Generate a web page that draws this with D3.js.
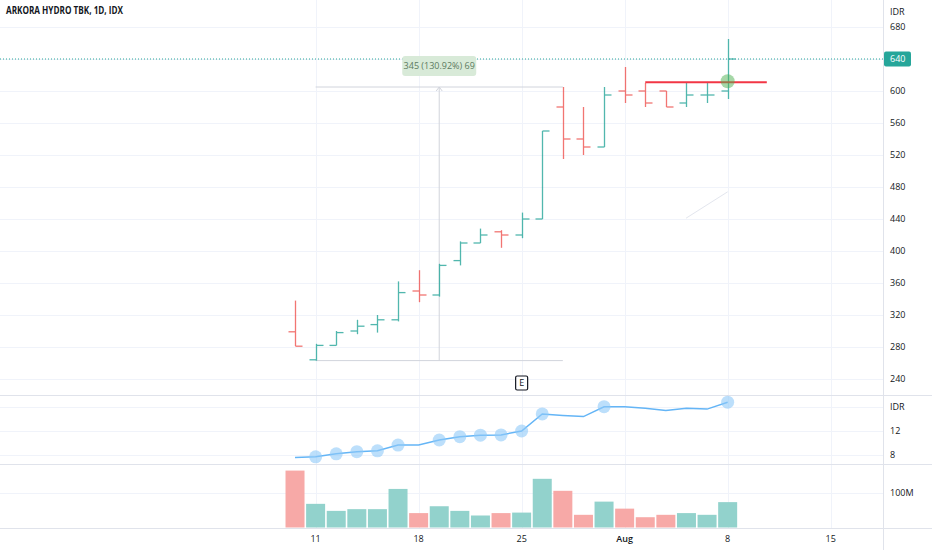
<!DOCTYPE html>
<html lang="en">
<head>
<meta charset="UTF-8">
<title>ARKORA HYDRO TBK, 1D, IDX</title>
<script src="https://d3js.org/d3.v7.min.js"></script>
<style>
  body { margin: 0; background: #fff; }
  svg { display: block; font-family: "Open Sans", "Noto Sans", sans-serif; }
  .lbl { font-size: 9px; fill: #131722; }
</style>
</head>
<body>
<div id="chart"></div>
<script>
// daily bars, ARKO, 8 Jul - 8 Aug 2022 (trading days only)
const dates = ["07-08","07-11","07-12","07-13","07-14","07-15","07-18","07-19","07-20","07-21","07-22",
               "07-25","07-26","07-27","07-28","07-29","08-01","08-02","08-03","08-04","08-05","08-08"];
const opens  = [299, 264, 282, 300, 308, 314, 350, 345, 388, 410, 424, 420, 440, 580, 540, 530, 600, 600, 600, 585, 595, 600];
const highs  = [338, 284, 300, 314, 320, 362, 376, 384, 412, 428, 426, 448, 550, 605, 580, 605, 630, 610, 600, 610, 610, 665];
const lows   = [281, 263, 282, 296, 298, 312, 336, 343, 382, 410, 404, 416, 440, 515, 520, 530, 585, 580, 580, 580, 585, 590];
const closes = [281, 282, 298, 306, 314, 348, 345, 382, 410, 420, 420, 440, 550, 540, 530, 595, 595, 585, 580, 595, 595, 640];
// volume in millions
const volumes = [166, 69, 48.5, 53.5, 53.5, 112.5, 42, 62, 48.5, 35, 42, 43.5, 142, 107, 37, 75.5, 55, 30, 37, 42, 37, 74];
// middle pane (IDR)
const indicator = [7.6, 7.7, 8.2, 8.55, 8.7, 9.65, 9.65, 10.5, 11.05, 11.3, 11.35, 12.0, 14.85, 14.6, 14.4, 16.05, 16.05, 15.8, 15.4, 15.8, 15.65, 16.8];
const markers   = [0, 1, 1, 1, 1, 1, 0, 1, 1, 1, 1, 1, 1, 0, 0, 1, 0, 0, 0, 0, 0, 1];

const priceTicks = [240, 280, 320, 360, 400, 440, 480, 520, 560, 600, 640, 680];
const indTicks = [8, 12];
const volTicks = [100];
const xTickIdx = [1, 6, 11, 16, 21, 26];
const xTickLabels = ["11", "18", "25", "Aug", "8", "15"];

const lastPrice = 640;
const measureLow = 263, measureHigh = 605, measureFrom = 1, measureTo = 13, measureText = "345 (130.92%) 69";
const hLineValue = 611, hLineFrom = 17, hLineTo = 22.9;
const earningsIdx = 11;

const W = 932, H = 550, plotR = 883;
const up = "#26a69a", down = "#ef5350";

const svg = d3.select("#chart").append("svg").attr("width", W).attr("height", H);

const x  = d3.scaleLinear().domain([-14.32, 28.54]).range([0, plotR]);
const yP = d3.scaleLinear().domain([220, 713.75]).range([395, 0]);
const yI = d3.scaleLinear().domain([6.5, 18]).range([464, 395]);
const yV = d3.scaleLinear().domain([0, 185.2]).range([527.5, 464]);
const step = x(1) - x(0);

// grid
const grid = svg.append("g").attr("stroke", "#f0f3fa").attr("stroke-width", 1);
grid.selectAll(".gp").data(priceTicks).enter().append("line")
  .attr("x1", 0).attr("x2", plotR).attr("y1", d => Math.round(yP(d)) + 0.5).attr("y2", d => Math.round(yP(d)) + 0.5);
grid.selectAll(".gi").data([8, 12, 16]).enter().append("line")
  .attr("x1", 0).attr("x2", plotR).attr("y1", d => Math.round(yI(d)) + 0.5).attr("y2", d => Math.round(yI(d)) + 0.5);
grid.selectAll(".gv").data(volTicks).enter().append("line")
  .attr("x1", 0).attr("x2", plotR).attr("y1", d => Math.round(yV(d)) + 0.5).attr("y2", d => Math.round(yV(d)) + 0.5);
grid.selectAll(".gx").data(xTickIdx).enter().append("line")
  .attr("x1", d => Math.round(x(d)) + 0.5).attr("x2", d => Math.round(x(d)) + 0.5).attr("y1", 0).attr("y2", 528);

// pane separators and right axis border
const sep = svg.append("g").attr("stroke", "#e0e3eb").attr("stroke-width", 1);
[395, 464, 528].forEach(y => sep.append("line").attr("x1", 0).attr("x2", W).attr("y1", y + 0.5).attr("y2", y + 0.5));
sep.append("line").attr("x1", plotR + 0.5).attr("x2", plotR + 0.5).attr("y1", 0).attr("y2", H);

// last price dotted line
svg.append("line").attr("x1", 0).attr("x2", plotR).attr("y1", yP(lastPrice)).attr("y2", yP(lastPrice))
  .attr("stroke", up).attr("stroke-width", 1).attr("stroke-dasharray", "1,2");

// measurement tool
const mg = svg.append("g").attr("stroke", "#d1d4dc").attr("stroke-width", 1).attr("fill", "none");
const mMid = (measureFrom + measureTo) / 2;
mg.append("line").attr("x1", x(measureFrom)).attr("x2", x(measureTo)).attr("y1", yP(measureHigh)).attr("y2", yP(measureHigh));
mg.append("line").attr("x1", x(measureFrom)).attr("x2", x(measureTo)).attr("y1", yP(measureLow)).attr("y2", yP(measureLow));
mg.append("line").attr("x1", x(mMid)).attr("x2", x(mMid)).attr("y1", yP(measureLow)).attr("y2", yP(measureHigh));
mg.append("path").attr("d", `M${x(mMid) - 3},${yP(measureHigh) + 4}L${x(mMid)},${yP(measureHigh)}L${x(mMid) + 3},${yP(measureHigh) + 4}`);
svg.append("rect").attr("x", x(mMid) - 37).attr("y", yP(measureHigh) - 31).attr("width", 74).attr("height", 20)
  .attr("rx", 3).attr("fill", "#d8ead8");
svg.append("text").attr("x", x(mMid)).attr("y", yP(measureHigh) - 21).attr("dy", "0.35em")
  .attr("text-anchor", "middle").attr("font-size", 9).attr("fill", "#5d7a5f").text(measureText);

// faint leftover drawing
svg.append("line").attr("x1", x(18.98)).attr("y1", yP(441)).attr("x2", x(21)).attr("y2", yP(474))
  .attr("stroke", "#e3e6ee").attr("stroke-width", 1);

// OHLC bars
const bars = svg.append("g").attr("stroke-width", 1.3);
dates.forEach((d, i) => {
  const c = closes[i] >= opens[i] ? up : down;
  const cx = Math.round(x(i)) + 0.5;
  const g = bars.append("g").attr("stroke", c).attr("opacity", 0.8);
  g.append("line").attr("x1", cx).attr("x2", cx).attr("y1", yP(highs[i])).attr("y2", yP(lows[i]));
  g.append("line").attr("x1", cx - 7).attr("x2", cx).attr("y1", yP(opens[i])).attr("y2", yP(opens[i]));
  g.append("line").attr("x1", cx).attr("x2", cx + 7).attr("y1", yP(closes[i])).attr("y2", yP(closes[i]));
});

// red horizontal level and marker
svg.append("line").attr("x1", x(hLineFrom)).attr("x2", x(hLineTo)).attr("y1", yP(hLineValue)).attr("y2", yP(hLineValue))
  .attr("stroke", "#f23645").attr("stroke-width", 2);
svg.append("circle").attr("cx", x(21)).attr("cy", yP(hLineValue) - 1).attr("r", 7)
  .attr("fill", "#4caf50").attr("opacity", 0.5);

// earnings marker
const eg = svg.append("g").attr("transform", `translate(${x(earningsIdx)},383)`);
eg.append("rect").attr("x", -6).attr("y", -7).attr("width", 12).attr("height", 14).attr("rx", 1.5)
  .attr("fill", "#fff").attr("stroke", "#131722").attr("stroke-width", 1.2);
eg.append("text").attr("text-anchor", "middle").attr("dy", "0.35em").attr("font-size", 9).attr("fill", "#131722").text("E");

// indicator pane
const line = d3.line().x((d, i) => x(i)).y(d => yI(d));
svg.append("path").datum(indicator).attr("d", line).attr("fill", "none")
  .attr("stroke", "#64b5f6").attr("stroke-width", 1.5);
const marked = indicator.map((v, i) => ({ v, i })).filter(d => markers[d.i]);
svg.selectAll(".mk").data(marked).enter().append("circle")
  .attr("cx", d => x(d.i)).attr("cy", d => yI(d.v)).attr("r", 6.5)
  .attr("fill", "#90caf9").attr("opacity", 0.6);

// volume pane
svg.selectAll(".vb").data(volumes).enter().append("rect")
  .attr("x", (d, i) => x(i) - step / 2 + 0.8).attr("width", step - 1.6)
  .attr("y", d => yV(d)).attr("height", d => yV(0) - yV(d))
  .attr("fill", (d, i) => closes[i] >= opens[i] ? "#92d2cc" : "#f7a9a7");

// right axis labels
const ax = svg.append("g").attr("class", "lbl");
ax.selectAll(".pt").data(priceTicks.filter(d => d !== lastPrice)).enter().append("text")
  .attr("x", 890).attr("y", d => yP(d)).attr("dy", "0.35em").text(d => d);
ax.append("text").attr("x", 890).attr("y", 12).attr("dy", "0.35em").text("IDR");
ax.selectAll(".it").data(indTicks).enter().append("text")
  .attr("x", 890).attr("y", d => yI(d)).attr("dy", "0.35em").text(d => d);
ax.append("text").attr("x", 890).attr("y", yI(16)).attr("dy", "0.35em").text("IDR");
ax.selectAll(".vt").data(volTicks).enter().append("text")
  .attr("x", 890).attr("y", d => yV(d)).attr("dy", "0.35em").text(d => d + "M");

// last price tag
svg.append("rect").attr("x", plotR + 1).attr("y", yP(lastPrice) - 7.5).attr("width", 27).attr("height", 15)
  .attr("rx", 2).attr("fill", up);
svg.append("text").attr("x", 890).attr("y", yP(lastPrice)).attr("dy", "0.35em")
  .attr("font-size", 9).attr("fill", "#fff").text(lastPrice);

// time axis
svg.selectAll(".xt").data(xTickIdx).enter().append("text")
  .attr("class", "lbl").attr("x", d => x(d)).attr("y", 539).attr("dy", "0.35em")
  .attr("text-anchor", "middle").attr("font-weight", (d, i) => xTickLabels[i] === "Aug" ? 600 : 400)
  .text((d, i) => xTickLabels[i]);

// title
svg.append("text").attr("x", 6).attr("y", 14).attr("font-size", 10).attr("font-weight", 700)
  .attr("fill", "#131722").attr("textLength", 117).attr("lengthAdjust", "spacingAndGlyphs")
  .text("ARKORA HYDRO TBK, 1D, IDX");
</script>
</body>
</html>
